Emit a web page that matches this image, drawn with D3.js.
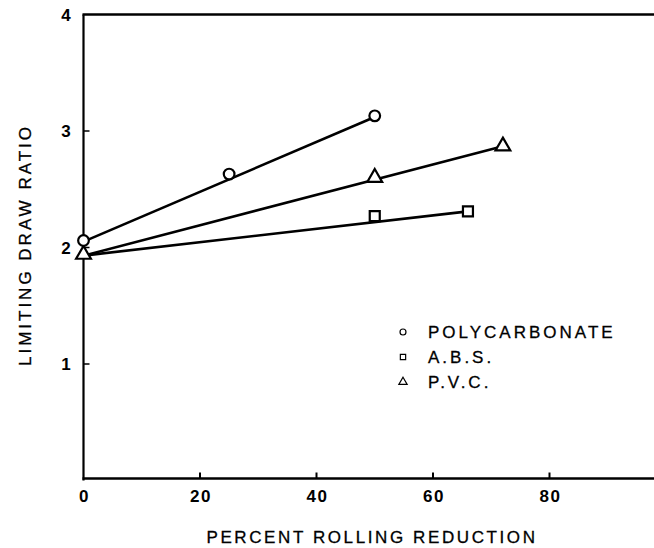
<!DOCTYPE html>
<html>
  <head>
    <meta charset="utf-8" />
    <script src="https://d3js.org/d3.v7.min.js"></script>
    <style>
      body { margin: 0; background: #fff; }
      text { font-family: "Liberation Sans", Arial, Helvetica, sans-serif; fill: #000; }
    </style>
  </head>
  <body>
    <div id="my_dataviz"></div>
    <script>
      // data
      var xTicks = [0, 20, 40, 60, 80];
      var yTicks = [1, 2, 3, 4];

      var polyX = [0, 25, 50];
      var polyY = [2.06, 2.63, 3.13];
      var absX = [50, 66];
      var absY = [2.27, 2.31];
      var pvcX = [0, 50, 72];
      var pvcY = [1.94, 2.6, 2.87];

      // fitted straight lines: [x0, y0, x1, y1]
      var polyFit = [0, 2.05, 50, 3.12];
      var absFit = [0, 1.93, 66, 2.31];
      var pvcFit = [0, 1.93, 72, 2.87];

      var legendNames = ["POLYCARBONATE", "A.B.S.", "P.V.C."];
      var legendShapes = ["circle", "square", "triangle"];

      var width = 654, height = 548;
      var svg = d3.select("#my_dataviz").append("svg")
        .attr("width", width).attr("height", height);

      var x = d3.scaleLinear().domain([0, 100]).range([83.5, 666]);
      var y = d3.scaleLinear().domain([0, 4]).range([480.5, 14.5]);

      // frame: left axis, bottom axis, top line
      svg.append("line").attr("x1", x(0)).attr("x2", x(0)).attr("y1", y(0)).attr("y2", y(4))
        .attr("stroke", "#000").attr("stroke-width", 2.2);
      svg.append("line").attr("x1", x(0) - 1).attr("x2", width).attr("y1", y(0) - 2).attr("y2", y(0) - 2)
        .attr("stroke", "#000").attr("stroke-width", 2.4);
      svg.append("line").attr("x1", x(0) - 1).attr("x2", width).attr("y1", y(4)).attr("y2", y(4))
        .attr("stroke", "#000").attr("stroke-width", 2.6);

      // x ticks (inward) and labels
      svg.selectAll(".xt").data(xTicks.slice(1)).enter().append("line")
        .attr("x1", d => x(d)).attr("x2", d => x(d))
        .attr("y1", y(0) - 2).attr("y2", y(0) - 8)
        .attr("stroke", "#000").attr("stroke-width", 2);
      svg.selectAll(".xl").data(xTicks).enter().append("text")
        .attr("x", d => x(d) + 1).attr("y", 502)
        .attr("text-anchor", "middle")
        .style("font-size", "17px").style("font-weight", "bold").style("letter-spacing", "1.5px")
        .text(d => d);

      // y ticks (inward) and labels
      svg.selectAll(".yt").data(yTicks.slice(0, 3)).enter().append("line")
        .attr("x1", x(0)).attr("x2", x(0) + 6)
        .attr("y1", d => y(d)).attr("y2", d => y(d))
        .attr("stroke", "#000").attr("stroke-width", 1.5);
      svg.selectAll(".yl").data(yTicks).enter().append("text")
        .attr("x", 66).attr("y", d => y(d) + 6)
        .attr("text-anchor", "middle")
        .style("font-size", "17px").style("font-weight", "bold")
        .text(d => d);

      // axis titles
      svg.append("text").attr("x", 372).attr("y", 543)
        .attr("text-anchor", "middle")
        .attr("stroke", "#000").attr("stroke-width", 0.3)
        .style("font-size", "17px").style("letter-spacing", "2.6px")
        .text("PERCENT ROLLING REDUCTION");
      svg.append("text")
        .attr("transform", "translate(31,245) rotate(-90)")
        .attr("text-anchor", "middle")
        .attr("stroke", "#000").attr("stroke-width", 0.3)
        .style("font-size", "17px").style("letter-spacing", "3px")
        .text("LIMITING DRAW RATIO");

      // fitted lines
      [polyFit, absFit, pvcFit].forEach(function (f) {
        svg.append("line")
          .attr("x1", x(f[0])).attr("y1", y(f[1]))
          .attr("x2", x(f[2])).attr("y2", y(f[3]))
          .attr("stroke", "#000").attr("stroke-width", 2.6);
      });

      var sym = {
        circle: d3.symbol().type(d3.symbolCircle),
        square: d3.symbol().type(d3.symbolSquare),
        triangle: d3.symbol().type(d3.symbolTriangle)
      };

      function drawPoints(xs, ys, shape, size) {
        svg.selectAll(null).data(xs).enter().append("path")
          .attr("d", sym[shape].size(size))
          .attr("transform", (d, i) => "translate(" + x(d) + "," + y(ys[i]) + ")")
          .attr("fill", "#fff").attr("stroke", "#000").attr("stroke-width", 2.2);
      }
      drawPoints(absX, absY, "square", 100);
      drawPoints(pvcX, pvcY, "triangle", 95);
      drawPoints(polyX, polyY, "circle", 90);

      // legend
      var lg = svg.append("g");
      legendNames.forEach(function (name, i) {
        var cy = 332 + i * 25;
        lg.append("path")
          .attr("d", sym[legendShapes[i]].size(legendShapes[i] === "triangle" ? 30 : 28))
          .attr("transform", "translate(403," + cy + ")")
          .attr("fill", "#fff").attr("stroke", "#000").attr("stroke-width", 1.2);
        lg.append("text").attr("x", 428).attr("y", cy + 6)
          .attr("stroke", "#000").attr("stroke-width", 0.3)
          .style("font-size", "17px").style("letter-spacing", "3px")
          .text(name);
      });
    </script>
  </body>
</html>
